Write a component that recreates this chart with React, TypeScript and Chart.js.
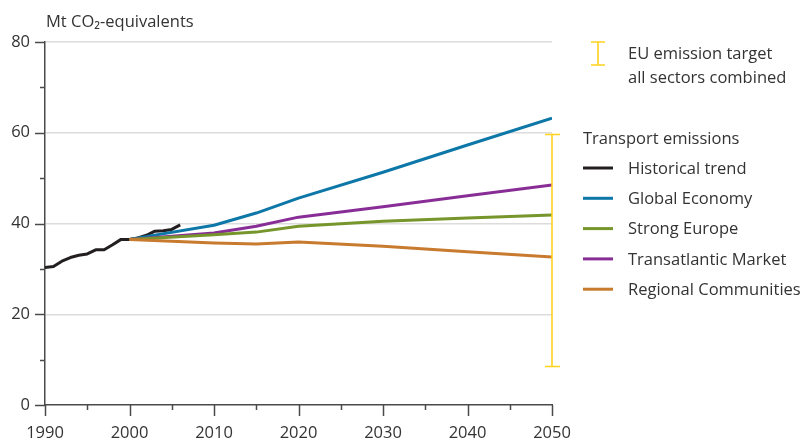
import React, { useEffect, useRef } from "react";
import { Chart, registerables } from "chart.js";

Chart.register(...registerables);

const historicalYears = [1990, 1991, 1992, 1993, 1994, 1995, 1996, 1997, 1998, 1999, 2000, 2001, 2002, 2003, 2004, 2005, 2006];
const historicalValues = [30.3, 30.5, 31.7, 32.5, 33.0, 33.3, 34.2, 34.2, 35.3, 36.5, 36.5, 36.8, 37.4, 38.3, 38.4, 38.7, 39.7];

const scenarioYears = [2000, 2010, 2015, 2020, 2030, 2040, 2050];
const globalEconomy = [36.5, 39.6, 42.3, 45.6, 51.3, 57.3, 63.2];
const strongEurope = [36.5, 37.5, 38.1, 39.4, 40.5, 41.2, 41.9];
const transatlanticMarket = [36.5, 37.9, 39.4, 41.4, 43.7, 46.1, 48.5];
const regionalCommunities = [36.5, 35.7, 35.5, 35.9, 35.0, 33.8, 32.6];

const targetYear = 2050;
const targetLow = 8.5;
const targetHigh = 59.6;

const xTickStep = 5;
const yTickStep = 10;

const COLORS = {
  hist: "#231f20",
  global: "#0d77a8",
  strong: "#76952a",
  trans: "#892d96",
  regional: "#c87a2f",
  target: "#ffd21f",
  axis: "#4a4a4a",
  grid: "#dcdcdc",
  text: "#333333",
};

const FONT = "'Open Sans', sans-serif";
const FS = 16.5;

const seriesLegend = [
  { label: "Historical trend", color: COLORS.hist },
  { label: "Global Economy", color: COLORS.global },
  { label: "Strong Europe", color: COLORS.strong },
  { label: "Transatlantic Market", color: COLORS.trans },
  { label: "Regional Communities", color: COLORS.regional },
];

const pts = (xs: number[], ys: number[]) => xs.map((x, i) => ({ x, y: ys[i] }));

const decorPlugin = {
  id: "decor",
  afterDatasetsDraw(chart: any) {
    const ctx = chart.ctx;
    const xs = chart.scales.x;
    const ys = chart.scales.y;
    const area = chart.chartArea;
    ctx.save();
    // axis ticks
    ctx.strokeStyle = COLORS.axis;
    ctx.lineWidth = 1.5;
    for (let v = xs.min; v <= xs.max; v += xTickStep) {
      const px = Math.round(xs.getPixelForValue(v)) + 0.5;
      const len = v % 10 === 0 ? 11 : 5;
      ctx.beginPath();
      ctx.moveTo(px, area.bottom);
      ctx.lineTo(px, area.bottom + len);
      ctx.stroke();
    }
    for (let v = ys.min; v <= ys.max; v += yTickStep) {
      const py = Math.round(ys.getPixelForValue(v)) + 0.5;
      const len = v % 20 === 0 ? 10 : 5;
      ctx.beginPath();
      ctx.moveTo(area.left, py);
      ctx.lineTo(area.left - len, py);
      ctx.stroke();
    }
    // target error bar
    const tx = xs.getPixelForValue(targetYear);
    const tTop = ys.getPixelForValue(targetHigh);
    const tBot = ys.getPixelForValue(targetLow);
    ctx.strokeStyle = COLORS.target;
    ctx.lineWidth = 1.6;
    ctx.beginPath();
    ctx.moveTo(tx, tTop);
    ctx.lineTo(tx, tBot);
    ctx.moveTo(tx - 7, tTop);
    ctx.lineTo(tx + 8, tTop);
    ctx.moveTo(tx - 7, tBot);
    ctx.lineTo(tx + 8, tBot);
    ctx.stroke();

    // axis title
    ctx.fillStyle = COLORS.text;
    ctx.font = `${FS}px ${FONT}`;
    ctx.textBaseline = "middle";
    ctx.textAlign = "left";
    ctx.fillText("Mt CO\u2082-equivalents", area.left + 1, 22);

    // legend
    const lx = area.right + 31;
    ctx.strokeStyle = COLORS.target;
    ctx.lineWidth = 1.6;
    const ix = lx + 15;
    ctx.beginPath();
    ctx.moveTo(ix, 42);
    ctx.lineTo(ix, 65);
    ctx.moveTo(ix - 7, 42);
    ctx.lineTo(ix + 7, 42);
    ctx.moveTo(ix - 7, 65);
    ctx.lineTo(ix + 7, 65);
    ctx.stroke();
    ctx.fillText("EU emission target", lx + 45, 54);
    ctx.fillText("all sectors combined", lx + 45, 78);
    ctx.fillText("Transport emissions", lx, 139);
    seriesLegend.forEach((s, i) => {
      const y = 168 + i * 30.3;
      ctx.strokeStyle = s.color;
      ctx.lineWidth = 3;
      ctx.beginPath();
      ctx.moveTo(lx, y);
      ctx.lineTo(lx + 30, y);
      ctx.stroke();
      ctx.fillText(s.label, lx + 45, y + 1);
    });
    ctx.restore();
  },
};

export default function App() {
  const ref = useRef<HTMLCanvasElement | null>(null);
  useEffect(() => {
    if (!ref.current) return;
    const line = (data: any, color: string) => ({
      data,
      borderColor: color,
      backgroundColor: color,
      borderWidth: 3,
      pointRadius: 0,
      tension: 0,
      fill: false,
      borderCapStyle: "butt",
      borderJoinStyle: "round",
    });
    const chart = new Chart(ref.current, {
      type: "line",
      data: {
        datasets: [
          line(pts(scenarioYears, regionalCommunities), COLORS.regional),
          line(pts(scenarioYears, strongEurope), COLORS.strong),
          line(pts(scenarioYears, transatlanticMarket), COLORS.trans),
          line(pts(scenarioYears, globalEconomy), COLORS.global),
          line(pts(historicalYears, historicalValues), COLORS.hist),
        ] as any,
      },
      options: {
        animation: false,
        responsive: false,
        maintainAspectRatio: false,
        layout: { padding: { top: 42, right: 254, left: 0, bottom: 0 } },
        plugins: { legend: { display: false }, tooltip: { enabled: false } },
        scales: {
          x: {
            type: "linear",
            min: 1990,
            max: 2050,
            afterFit: (s: any) => { s.height = 37; },
            border: { display: true, color: COLORS.axis, width: 1.5 },
            grid: { drawOnChartArea: false, drawTicks: false },
            ticks: {
              stepSize: xTickStep,
              autoSkip: false,
              maxRotation: 0,
              padding: 18,
              color: COLORS.text,
              font: { family: FONT, size: FS },
              callback: (v: any) => (Number(v) % 10 === 0 ? String(v) : ""),
            },
          },
          y: {
            min: 0,
            max: 80,
            afterFit: (s: any) => { s.width = 45; },
            border: { display: true, color: COLORS.axis, width: 1.5 },
            grid: {
              drawTicks: false,
              lineWidth: 1.5,
              color: (c: any) => {
                const v = c.tick ? c.tick.value : 0;
                return v !== 0 && v % 20 === 0 ? COLORS.grid : "rgba(0,0,0,0)";
              },
            },
            ticks: {
              stepSize: yTickStep,
              autoSkip: false,
              padding: 15,
              color: COLORS.text,
              font: { family: FONT, size: FS },
              callback: (v: any) => (Number(v) % 20 === 0 ? String(v) : ""),
            },
          },
        },
      },
      plugins: [decorPlugin],
    } as any);
    return () => chart.destroy();
  }, []);
  return (
    <div style={{ position: "absolute", left: 0, top: 0, width: 806, height: 442, background: "#fff" }}>
      <canvas ref={ref} width={806} height={442} style={{ width: 806, height: 442, display: "block" }} />
    </div>
  );
}
